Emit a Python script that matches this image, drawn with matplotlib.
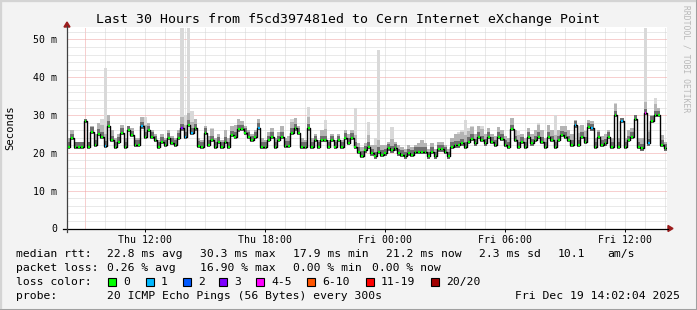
import numpy as np
import matplotlib.pyplot as plt
from matplotlib.lines import Line2D
from matplotlib.patches import Polygon, Rectangle

# median rtt (ms), one value every 10 minutes, 30 hours
median = [21.6, 23.9, 21.6, 21.6, 21.6, 28.5, 21.6, 25.6, 22.2, 25.0,
          24.3, 21.9, 27.2, 23.4, 21.6, 23.0, 25.3, 21.6, 26.0, 24.7,
          22.2, 22.2, 27.0, 24.3, 26.0, 24.3, 23.4, 21.6, 23.0, 22.2,
          24.0, 22.7, 22.2, 24.0, 26.5, 24.3, 27.5, 25.3, 26.5, 21.9,
          21.6, 25.3, 22.2, 23.4, 21.6, 23.0, 21.6, 23.0, 21.6, 24.7,
          24.3, 26.2, 26.3, 25.3, 24.3, 23.4, 24.3, 26.7, 21.6, 21.6,
          23.4, 24.3, 21.6, 23.4, 24.3, 21.9, 21.9, 25.3, 26.5, 25.3,
          21.6, 21.6, 26.5, 21.6, 23.4, 21.6, 23.4, 23.4, 21.6, 23.4,
          21.6, 23.4, 21.6, 24.0, 22.7, 24.0, 21.6, 20.3, 19.3, 20.7,
          21.6, 19.9, 19.1, 20.3, 19.5, 19.9, 21.2, 20.7, 21.2, 19.9,
          19.5, 19.1, 19.9, 19.5, 20.3, 20.3, 20.3, 20.3, 19.1, 20.3,
          19.1, 20.9, 20.9, 20.3, 19.1, 21.6, 22.0, 22.0, 22.5, 21.6,
          22.9, 23.8, 22.5, 24.3, 23.4, 22.5, 24.3, 23.0, 22.2, 24.3,
          23.8, 22.2, 21.6, 26.3, 23.4, 21.6, 23.0, 21.6, 24.3, 22.5,
          23.4, 24.3, 23.0, 21.6, 24.3, 23.4, 21.6, 23.4, 24.7, 24.3,
          23.4, 22.2, 27.3, 22.2, 24.3, 22.9, 26.8, 26.5, 21.6, 24.3,
          22.2, 22.5, 24.3, 21.6, 30.0, 21.6, 28.5, 21.6, 23.4, 24.3,
          29.0, 21.6, 21.2, 30.5, 22.5, 28.5, 30.0, 30.0, 22.2, 21.2]

# highest of the 20 pings (top of the smoke), ms
ping_max = [24.0, 26.0, 23.0, 23.0, 23.0, 29.0, 23.0, 27.0, 25.0, 28.0,
            29.0, 42.5, 30.0, 26.0, 24.0, 25.0, 27.4, 24.0, 27.0, 26.5,
            24.0, 24.0, 29.6, 29.6, 28.0, 26.0, 25.0, 23.5, 25.0, 24.0,
            26.0, 24.5, 24.0, 26.0, 53.0, 30.0, 53.0, 31.0, 29.0, 24.0,
            23.5, 27.0, 24.5, 26.5, 24.0, 25.0, 23.5, 26.0, 24.0, 27.0,
            27.5, 29.0, 28.5, 27.0, 26.0, 25.0, 26.0, 29.0, 24.0, 23.5,
            25.5, 26.5, 24.0, 25.5, 27.0, 24.0, 24.5, 29.0, 29.2, 27.0,
            24.0, 23.5, 32.2, 24.0, 25.0, 23.5, 26.0, 28.7, 23.5, 25.0,
            23.5, 25.0, 23.5, 26.0, 25.0, 26.0, 31.9, 22.5, 21.5, 22.5,
            28.3, 22.0, 24.0, 47.2, 22.0, 22.0, 23.0, 26.9, 23.0, 22.0,
            21.5, 21.0, 22.0, 21.5, 22.0, 22.5, 23.4, 22.5, 21.0, 22.5,
            21.0, 23.0, 23.0, 22.0, 21.0, 24.0, 25.0, 25.5, 26.0, 28.7,
            26.5, 27.0, 25.0, 27.0, 27.0, 25.0, 26.5, 25.0, 24.5, 26.9,
            26.0, 24.5, 24.0, 29.2, 26.0, 25.8, 25.0, 24.0, 26.5, 25.0,
            26.0, 28.0, 26.0, 24.0, 27.5, 26.0, 30.0, 26.0, 27.0, 27.0,
            26.0, 25.0, 28.7, 27.0, 27.5, 26.0, 28.7, 28.5, 24.0, 26.0,
            24.5, 25.0, 26.0, 24.0, 33.2, 24.0, 29.2, 24.0, 26.0, 26.5,
            30.0, 24.0, 24.0, 53.0, 26.0, 30.0, 34.5, 32.0, 24.7, 23.0]

# steps with packet loss (index, lost pings)
loss_idx = [11, 22, 34, 35, 37, 57, 152, 157, 166, 173, 174]
loss_val = [1, 1, 3, 1, 1, 1, 1, 1, 1, 4, 1]

loss_labels = ["0", "1", "2", "3", "4-5", "6-10", "11-19", "20/20"]
loss_colors = ["#00ff00", "#00b8ff", "#0059ff", "#7e00ff", "#ff00ff",
               "#ff5500", "#ff0000", "#a10000"]

tick_labels = ["Thu 12:00", "Thu 18:00", "Fri 00:00", "Fri 06:00", "Fri 12:00"]
tick_hours = [3.9, 9.9, 15.9, 21.9, 27.9]

W, H = 697, 310
MONO = "DejaVu Sans Mono"
plt.rcParams['font.family'] = MONO

fig = plt.figure(figsize=(W / 100, H / 100), dpi=100, facecolor="#f3f3f3")

def fx(x):
    return x / W

def fy(y):
    return 1 - y / H

X0, X1, Y0, Y1 = 67, 667, 228.5, 27
ax = fig.add_axes([fx(X0), fy(Y0), (X1 - X0) / W, (Y0 - Y1) / H])
ax.set_facecolor("white")
ymax = 53.3
ax.set_xlim(0, 30)
ax.set_ylim(0, ymax)
for s in ax.spines.values():
    s.set_visible(False)

dt = 1 / 6
t = np.arange(len(median)) * dt
med = np.array(median)
top = np.array(ping_max)

# grid
dots = (0, (1, 1))
for h in np.arange(0.9, 30, 1.0):
    major = abs((h - 0.9) % 3) < 1e-6
    ax.axvline(h, color="#f0a0a0" if major else "#d4d4d4", lw=0.72,
               linestyle=dots, zorder=0)
for v in np.arange(2, ymax, 2):
    major = v % 10 == 0
    ax.axhline(v, color="#f0a0a0" if major else "#d4d4d4", lw=0.72,
               linestyle=dots, zorder=0)

# smoke
te = np.append(t, 30)
lo = np.append(med - 0.6, med[-1] - 0.6)
hi = np.append(top, top[-1])
mid = np.append(np.minimum(top, med + 3.0), min(top[-1], med[-1] + 3.0))
dark = np.append(np.minimum(top, med + 1.2), min(top[-1], med[-1] + 1.2))
ax.fill_between(te, lo, hi, step="post", color="#d9d9d9", lw=0, zorder=1)
ax.fill_between(te, lo, mid, step="post", color="#b4b4b4", lw=0, zorder=1)
ax.fill_between(te, lo, dark, step="post", color="#6e6e6e", lw=0, zorder=1)

# median line
ax.step(te, np.append(med, med[-1]), where="post", color="black", lw=1.0, zorder=2)
cols = [loss_colors[0]] * len(median)
for i, v in zip(loss_idx, loss_val):
    k = {0: 0, 1: 1, 2: 2, 3: 3, 4: 4, 5: 4}.get(v, 5)
    cols[i] = loss_colors[k]
ax.hlines(med, t + dt * 0.25, t + dt * 0.8, colors=cols, lw=1.6, zorder=3)

# ticks
ax.set_yticks([0, 10, 20, 30, 40, 50])
ax.set_yticklabels(["0", "10 m", "20 m", "30 m", "40 m", "50 m"])
ax.set_xticks(tick_hours)
ax.set_xticklabels(tick_labels)
ax.tick_params(axis="y", length=0, pad=7, labelsize=7.1)
ax.tick_params(axis="x", length=2.2, width=0.7, pad=2.5, labelsize=7.1)

# axes lines and arrows
fig.add_artist(Line2D([fx(63), fx(668)], [fy(Y0), fy(Y0)], color="black", lw=0.9))
fig.add_artist(Line2D([fx(X0), fx(X0)], [fy(232), fy(26)], color="#404040", lw=0.9))
fig.add_artist(Polygon([[fx(668), fy(225.5)], [fx(673), fy(Y0)], [fx(668), fy(231.5)]],
                       closed=True, color="#9b1c1c", transform=fig.transFigure))
fig.add_artist(Polygon([[fx(64), fy(27)], [fx(X0), fy(22)], [fx(70), fy(27)]],
                       closed=True, color="#9b1c1c", transform=fig.transFigure))

# texts
fig.text(fx(348.5), fy(19), "Last 30 Hours from f5cd397481ed to Cern Internet eXchange Point",
         ha="center", va="center", fontsize=9.5)
fig.text(fx(10), fy(128), "Seconds", rotation=90, ha="center", va="center", fontsize=7.6)
fig.text(fx(686), fy(5), "RRDTOOL / TOBI OETIKER", rotation=270, ha="center", va="top",
         fontsize=5.8, color="#b8b8b8")

LS = 8.2
rows = [
    (254, [(16, "median rtt:"), (107, "22.8 ms avg"), (200, "30.3 ms max"),
           (293, "17.9 ms min"), (386, "21.2 ms now"), (479, "2.3 ms sd"),
           (558, "10.1"), (607, "am/s")]),
    (268, [(16, "packet loss:"), (107, "0.26 % avg"), (200, "16.90 % max"),
           (293, "0.00 % min"), (372, "0.00 % now")]),
    (282, [(16, "loss color:")]),
    (296, [(16, "probe:"), (107, "20 ICMP Echo Pings (56 Bytes) every 300s")]),
]
for y, items in rows:
    for x, s in items:
        fig.text(fx(x), fy(y), s, ha="left", va="center", fontsize=LS)
fig.text(fx(680), fy(296), "Fri Dec 19 14:02:04 2025", ha="right", va="center", fontsize=LS)

box_x = [108, 146, 183, 219, 256, 307, 366, 431]
for bx, lab, c in zip(box_x, loss_labels, loss_colors):
    fig.add_artist(Rectangle((fx(bx), fy(286)), 8 / W, 8 / H, facecolor=c,
                             edgecolor="black", lw=0.8, transform=fig.transFigure))
    fig.text(fx(bx + 15), fy(282), lab, ha="left", va="center", fontsize=LS)

# frame
fig.add_artist(Rectangle((0, 0), 1, 1, fill=False, edgecolor="#a0a0a0", lw=2.2,
                         transform=fig.transFigure))
fig.add_artist(Line2D([0, fx(695)], [fy(1), fy(1)], color="#d4d4d4", lw=1.5))
fig.add_artist(Line2D([fx(1), fx(1)], [fy(308), 1], color="#d4d4d4", lw=1.5))

fig.savefig("out.png", dpi=100, facecolor=fig.get_facecolor())
